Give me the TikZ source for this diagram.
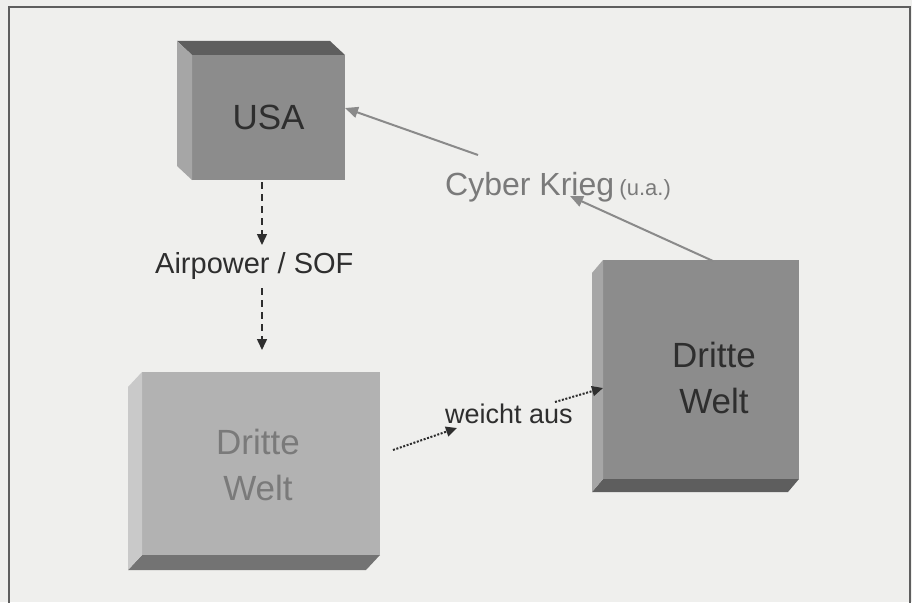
\documentclass[tikz,border=0pt]{standalone}
\usepackage{fontspec}
\setmainfont{Liberation Sans}
\usetikzlibrary{arrows.meta,calc}
\definecolor{paper}{HTML}{EFEFED}
\definecolor{frontdark}{HTML}{8C8C8C}
\definecolor{sidedark}{HTML}{A6A6A6}
\definecolor{edgedark}{HTML}{5E5E5E}
\definecolor{frontlight}{HTML}{B2B2B2}
\definecolor{sidelight}{HTML}{C9C9C9}
\definecolor{edgelight}{HTML}{737373}
\definecolor{ink}{HTML}{2E2E2E}
\definecolor{greyink}{HTML}{7A7A7A}
\definecolor{greyline}{HTML}{8A8A8A}
\begin{document}
\begin{tikzpicture}[x=1pt,y=-1pt,
  face/.style={inner sep=0pt,outer sep=0pt,draw=none},
  bigtext/.style={font=\fontsize{35}{46}\selectfont,align=center,inner sep=0pt},
  midtext/.style={font=\fontsize{29}{34}\selectfont,inner sep=0pt},
  dasharrow/.style={ink,line width=1.5pt,dash pattern=on 7pt off 5pt,-{Triangle[length=11pt,width=10pt]}},
  dotarrow/.style={ink,line width=2pt,dash pattern=on 2pt off 1.6pt,-{Triangle[length=11pt,width=10pt]}},
  greyarrow/.style={greyline,line width=2pt,-{Triangle[length=13pt,width=11pt]}}
]
\useasboundingbox (0,0) rectangle (912,602);
\fill[paper] (0,0) rectangle (912,602);
\draw[edgedark,line width=1.3pt] (9,605) -- (9,7) -- (910,7) -- (910,605);

% USA box
\node[face,fill=frontdark,minimum width=153pt,minimum height=125pt] (usa) at (268.5,117.5) {};
\fill[edgedark] (usa.north west) -- (usa.north east) -- ($(usa.north east)+(-15,-14)$) -- ($(usa.north west)+(-15,-14)$) -- cycle;
\fill[sidedark] (usa.north west) -- ($(usa.north west)+(-15,-14)$) -- ($(usa.south west)+(-15,-14)$) -- (usa.south west) -- cycle;
\node[bigtext,text=ink] (usat) at (usa.center) {USA};

% left Dritte Welt box
\node[face,fill=frontlight,minimum width=238pt,minimum height=183pt] (dwl) at (261,463.5) {};
\fill[edgelight] (dwl.south west) -- (dwl.south east) -- ($(dwl.south east)+(-14,15)$) -- ($(dwl.south west)+(-14,15)$) -- cycle;
\fill[sidelight] (dwl.north west) -- ($(dwl.north west)+(-14,15)$) -- ($(dwl.south west)+(-14,15)$) -- (dwl.south west) -- cycle;
\node[bigtext,text=greyink] (dwlt) at (258,465) {Dritte\\Welt};

% right Dritte Welt box
\node[face,fill=frontdark,minimum width=196pt,minimum height=219pt] (dwr) at (701,369.5) {};
\fill[edgedark] (dwr.south west) -- (dwr.south east) -- ($(dwr.south east)+(-11,13)$) -- ($(dwr.south west)+(-11,13)$) -- cycle;
\fill[sidedark] (dwr.north west) -- ($(dwr.north west)+(-11,13)$) -- ($(dwr.south west)+(-11,13)$) -- (dwr.south west) -- cycle;
\node[bigtext,text=ink] (dwrt) at (714,377.5) {Dritte\\Welt};

% labels
\node[midtext,text=ink,anchor=base west] (airp) at (155,273) {Airpower / SOF};
\node[font=\fontsize{32}{36}\selectfont,text=greyink,inner sep=0pt,anchor=base west] (cyber) at (445,195) {Cyber Krieg\,{\fontsize{22}{26}\selectfont (u.a.)}};
\node[font=\fontsize{27}{32}\selectfont,text=ink,inner sep=0pt,anchor=base west] (weicht) at (445,423) {weicht aus};

% coordinates for connector ends
\coordinate (a1s) at (262,182);
\coordinate (a1e) at (262,245);
\coordinate (a2s) at (262,288);
\coordinate (a2e) at (262,350);
\coordinate (c1s) at (478,155);
\coordinate (c1e) at (345,108);
\coordinate (c2s) at (713,261);
\coordinate (c2e) at (570,196);
\coordinate (w1s) at (393,450);
\coordinate (w1e) at (457,428);
\coordinate (w2s) at (555,402);
\coordinate (w2e) at (603,388);

\draw[dasharrow] (a1s) -- (a1e);
\draw[dasharrow] (a2s) -- (a2e);
\draw[greyarrow] (c1s) -- (c1e);
\draw[greyarrow] (c2s) -- (c2e);
\draw[dotarrow] (w1s) -- (w1e);
\draw[dotarrow] (w2s) -- (w2e);
\end{tikzpicture}
\end{document}
